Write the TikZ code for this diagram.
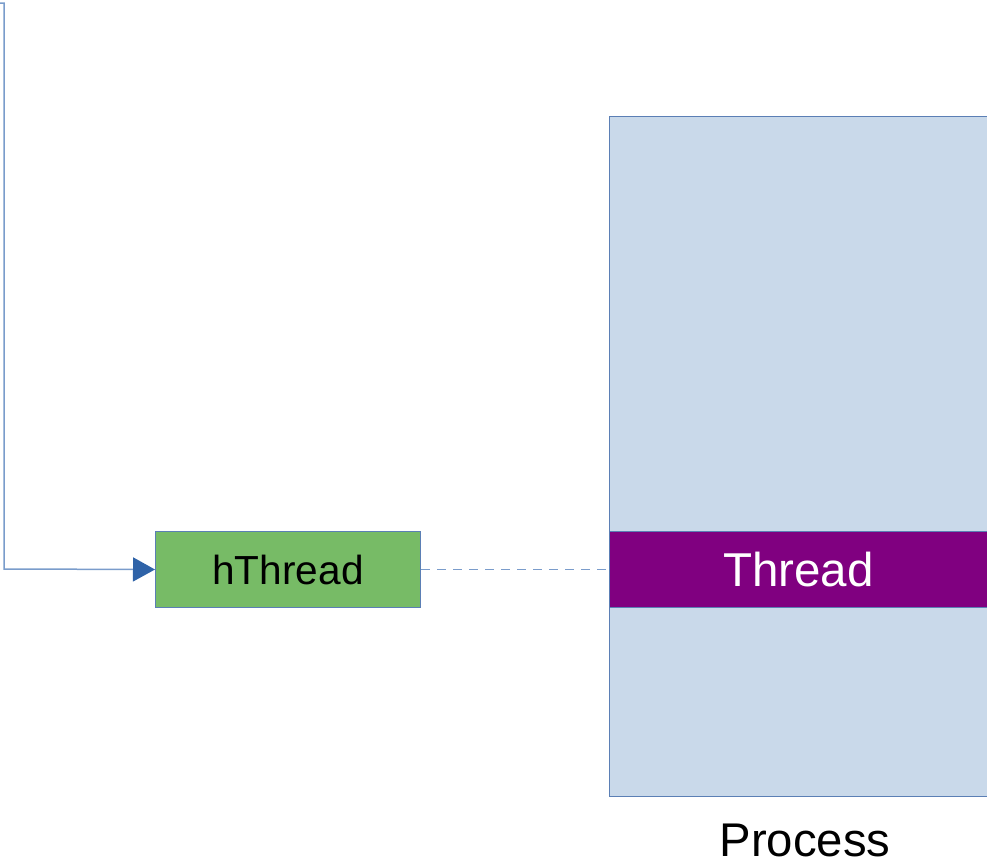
\documentclass[tikz,border=0pt]{standalone}
\usepackage{fontspec}
\setmainfont{Liberation Sans}
\usetikzlibrary{arrows.meta}
\definecolor{procfill}{HTML}{C9D9EA}
\definecolor{edgeblue}{HTML}{5B7FB5}
\definecolor{lineblue}{HTML}{7A9CCB}
\definecolor{headblue}{HTML}{2F63A8}
\definecolor{thgreen}{HTML}{77BB66}
\definecolor{thpurple}{HTML}{800080}
\tikzset{
  box/.style={draw=edgeblue, line width=1pt, inner sep=0pt, anchor=north west},
  conn/.style={draw=lineblue, line width=1.5pt},
}
\begin{document}
\begin{tikzpicture}[x=1pt,y=-1pt]
\useasboundingbox (0,0) rectangle (987,862);
\node[box, fill=procfill, minimum width=378pt, minimum height=680pt] (proc) at (609,116) {};
\node[box, fill=thpurple, minimum width=378pt, minimum height=76pt, text=white, font=\fontsize{47.5}{52}\selectfont] (thread) at (609,531) {Thread};
\node[box, fill=thgreen, minimum width=265pt, minimum height=76pt, font=\fontsize{40.6}{45}\selectfont] (hthread) at (155,531) {hThread};
\node[font=\fontsize{47.3}{52}\selectfont, anchor=center] (plabel) at (805,840) {Process};
\coordinate (start) at (0,3);
\draw[conn, -{Triangle[length=22pt,width=24pt,fill=headblue,color=headblue]}] (start) -- (4,3) -- (4,569) -- (hthread.west);
\draw[conn, dashed, dash pattern=on 9pt off 7pt, line width=1.4pt] (hthread.east) -- (thread.west);
\end{tikzpicture}
\end{document}
